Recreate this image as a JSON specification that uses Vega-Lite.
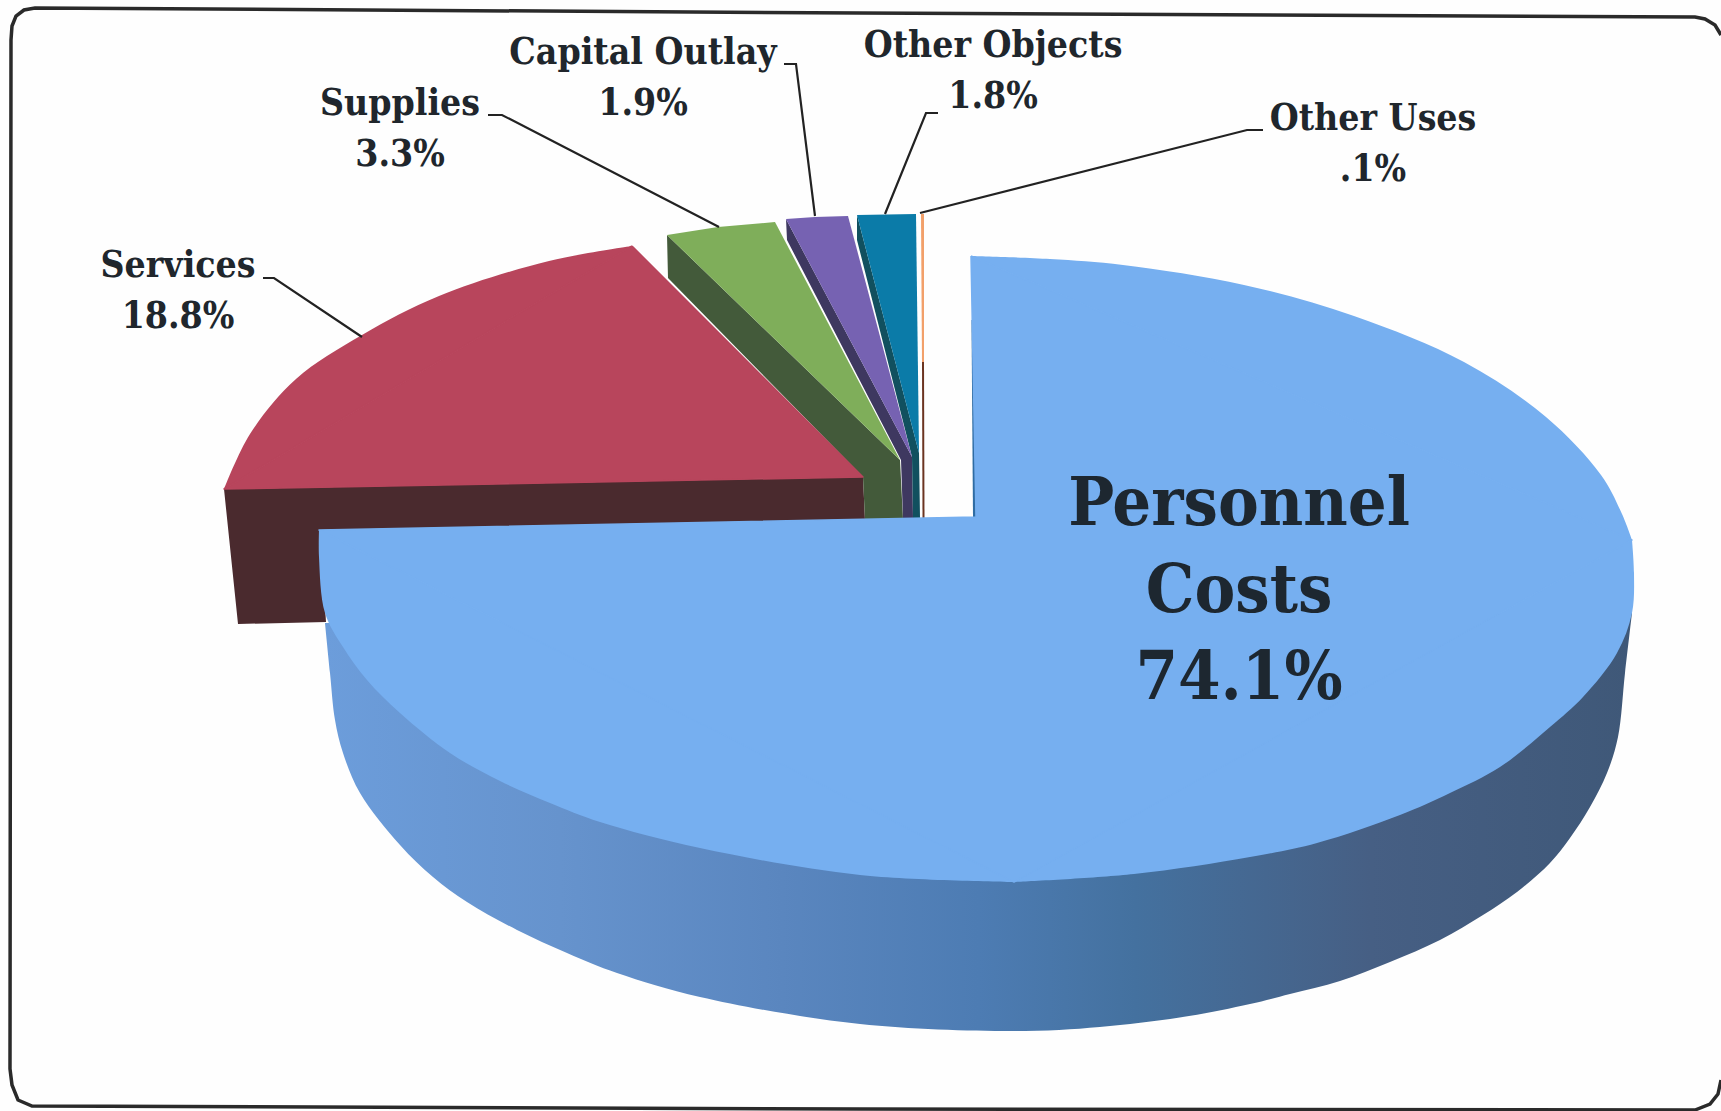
{"$schema":"https://vega.github.io/schema/vega-lite/v6.json","width":1721,"height":1111,"autosize":"none","padding":0,"background":"#fefefe","view":{"stroke":null},
"datasets":{
"shapes":[
{"tone":"Services side","part":"a","face":"side","i":1,"x":224,"y":489},{"tone":"Services side","part":"a","face":"side","i":2,"x":863,"y":477},{"tone":"Services side","part":"a","face":"side","i":3,"x":865,"y":520},{"tone":"Services side","part":"a","face":"side","i":4,"x":320,"y":530},{"tone":"Services side","part":"a","face":"side","i":5,"x":326,"y":622},{"tone":"Services side","part":"a","face":"side","i":6,"x":238,"y":624},
{"tone":"Supplies side","part":"a","face":"side","i":1,"x":667,"y":235},{"tone":"Supplies side","part":"a","face":"side","i":2,"x":900,"y":460},{"tone":"Supplies side","part":"a","face":"side","i":3,"x":903,"y":519},{"tone":"Supplies side","part":"a","face":"side","i":4,"x":865,"y":520},{"tone":"Supplies side","part":"a","face":"side","i":5,"x":863,"y":477},{"tone":"Supplies side","part":"a","face":"side","i":6,"x":668,"y":278},
{"tone":"Capital Outlay side","part":"a","face":"side","i":1,"x":786,"y":219},{"tone":"Capital Outlay side","part":"a","face":"side","i":2,"x":912,"y":457},{"tone":"Capital Outlay side","part":"a","face":"side","i":3,"x":913,"y":518},{"tone":"Capital Outlay side","part":"a","face":"side","i":4,"x":903,"y":519},{"tone":"Capital Outlay side","part":"a","face":"side","i":5,"x":901,"y":460},{"tone":"Capital Outlay side","part":"a","face":"side","i":6,"x":787,"y":240},
{"tone":"Other Objects side","part":"a","face":"side","i":1,"x":857,"y":215},{"tone":"Other Objects side","part":"a","face":"side","i":2,"x":919,"y":453},{"tone":"Other Objects side","part":"a","face":"side","i":3,"x":920,"y":518},{"tone":"Other Objects side","part":"a","face":"side","i":4,"x":913,"y":518},{"tone":"Other Objects side","part":"a","face":"side","i":5,"x":912,"y":457},{"tone":"Other Objects side","part":"a","face":"side","i":6,"x":857,"y":240},
{"tone":"Other Uses side","part":"a","face":"side","i":1,"x":922,"y":360},{"tone":"Other Uses side","part":"a","face":"side","i":2,"x":924,"y":360},{"tone":"Other Uses side","part":"a","face":"side","i":3,"x":924.5,"y":518},{"tone":"Other Uses side","part":"a","face":"side","i":4,"x":922.5,"y":518},
{"tone":"Personnel side","part":"a","face":"side","i":1,"x":971.5,"y":320},{"tone":"Personnel side","part":"a","face":"side","i":2,"x":972.5,"y":320},{"tone":"Personnel side","part":"a","face":"side","i":3,"x":976,"y":517},{"tone":"Personnel side","part":"a","face":"side","i":4,"x":973,"y":517},
{"tone":"Supplies top","part":"a","face":"wedge","i":1,"x":667,"y":235},{"tone":"Supplies top","part":"a","face":"wedge","i":2,"x":718,"y":227},{"tone":"Supplies top","part":"a","face":"wedge","i":3,"x":775,"y":222},{"tone":"Supplies top","part":"a","face":"wedge","i":4,"x":900,"y":460},
{"tone":"Capital Outlay top","part":"a","face":"wedge","i":1,"x":786,"y":219},{"tone":"Capital Outlay top","part":"a","face":"wedge","i":2,"x":815,"y":217},{"tone":"Capital Outlay top","part":"a","face":"wedge","i":3,"x":848,"y":216},{"tone":"Capital Outlay top","part":"a","face":"wedge","i":4,"x":912,"y":457},
{"tone":"Other Objects top","part":"a","face":"wedge","i":1,"x":857,"y":215},{"tone":"Other Objects top","part":"a","face":"wedge","i":2,"x":916,"y":214},{"tone":"Other Objects top","part":"a","face":"wedge","i":3,"x":919,"y":453},
{"tone":"Other Uses top","part":"a","face":"wedge","i":1,"x":921,"y":214},{"tone":"Other Uses top","part":"a","face":"wedge","i":2,"x":924,"y":214},{"tone":"Other Uses top","part":"a","face":"wedge","i":3,"x":924,"y":362},{"tone":"Other Uses top","part":"a","face":"wedge","i":4,"x":922,"y":362},
{"tone":"Services top","part":"a","face":"seam","i":1,"x":632,"y":246},{"tone":"Services top","part":"a","face":"seam","i":2,"x":863,"y":477},{"tone":"Services top","part":"a","face":"seam","i":3,"x":224,"y":489},{"tone":"Services top","part":"a","face":"seam","i":4,"x":632,"y":246},
{"tone":"Personnel top","part":"b","face":"seam","i":1,"x":971,"y":256},{"tone":"Personnel top","part":"b","face":"seam","i":2,"x":976,"y":517},{"tone":"Personnel top","part":"b","face":"seam","i":3,"x":319,"y":530},{"tone":"Personnel top","part":"b","face":"seam","i":4,"x":1014,"y":882},{"tone":"Personnel top","part":"b","face":"seam","i":5,"x":1632,"y":540},{"tone":"Personnel top","part":"b","face":"seam","i":6,"x":971,"y":256},
{"tone":"Services top","part":"s","face":"arc","i":1,"x":632,"y":246},{"tone":"Services top","part":"s","face":"arc","i":2,"x":549,"y":261},{"tone":"Services top","part":"s","face":"arc","i":3,"x":439,"y":296},{"tone":"Services top","part":"s","face":"arc","i":4,"x":362,"y":335},{"tone":"Services top","part":"s","face":"arc","i":5,"x":296,"y":379},{"tone":"Services top","part":"s","face":"arc","i":6,"x":250,"y":434},{"tone":"Services top","part":"s","face":"arc","i":7,"x":224,"y":489},
{"tone":"Personnel top","part":"p1","face":"arc","i":1,"x":971,"y":256},{"tone":"Personnel top","part":"p1","face":"arc","i":2,"x":1050,"y":259},{"tone":"Personnel top","part":"p1","face":"arc","i":3,"x":1123,"y":265},{"tone":"Personnel top","part":"p1","face":"arc","i":4,"x":1244,"y":285},{"tone":"Personnel top","part":"p1","face":"arc","i":5,"x":1354,"y":316},{"tone":"Personnel top","part":"p1","face":"arc","i":6,"x":1464,"y":362},{"tone":"Personnel top","part":"p1","face":"arc","i":7,"x":1546,"y":417},{"tone":"Personnel top","part":"p1","face":"arc","i":8,"x":1601,"y":475},{"tone":"Personnel top","part":"p1","face":"arc","i":9,"x":1622,"y":514},{"tone":"Personnel top","part":"p1","face":"arc","i":10,"x":1632,"y":540},
{"tone":"Personnel top","part":"p2","face":"arc","i":1,"x":1632,"y":540},{"tone":"Personnel top","part":"p2","face":"arc","i":2,"x":1634,"y":573},{"tone":"Personnel top","part":"p2","face":"arc","i":3,"x":1632,"y":613},{"tone":"Personnel top","part":"p2","face":"arc","i":4,"x":1617,"y":653},{"tone":"Personnel top","part":"p2","face":"arc","i":5,"x":1583,"y":697},{"tone":"Personnel top","part":"p2","face":"arc","i":6,"x":1550,"y":727},{"tone":"Personnel top","part":"p2","face":"arc","i":7,"x":1500,"y":767},{"tone":"Personnel top","part":"p2","face":"arc","i":8,"x":1450,"y":793},{"tone":"Personnel top","part":"p2","face":"arc","i":9,"x":1400,"y":815},{"tone":"Personnel top","part":"p2","face":"arc","i":10,"x":1317,"y":843},{"tone":"Personnel top","part":"p2","face":"arc","i":11,"x":1250,"y":857},{"tone":"Personnel top","part":"p2","face":"arc","i":12,"x":1134,"y":874},{"tone":"Personnel top","part":"p2","face":"arc","i":13,"x":1014,"y":882},
{"tone":"Personnel top","part":"p3","face":"arc","i":1,"x":1014,"y":882},{"tone":"Personnel top","part":"p3","face":"arc","i":2,"x":860,"y":875},{"tone":"Personnel top","part":"p3","face":"arc","i":3,"x":700,"y":848},{"tone":"Personnel top","part":"p3","face":"arc","i":4,"x":600,"y":822},{"tone":"Personnel top","part":"p3","face":"arc","i":5,"x":550,"y":803},{"tone":"Personnel top","part":"p3","face":"arc","i":6,"x":500,"y":781},{"tone":"Personnel top","part":"p3","face":"arc","i":7,"x":450,"y":753},{"tone":"Personnel top","part":"p3","face":"arc","i":8,"x":400,"y":713},{"tone":"Personnel top","part":"p3","face":"arc","i":9,"x":367,"y":680},{"tone":"Personnel top","part":"p3","face":"arc","i":10,"x":343,"y":647},{"tone":"Personnel top","part":"p3","face":"arc","i":11,"x":325,"y":613},{"tone":"Personnel top","part":"p3","face":"arc","i":12,"x":319,"y":557},{"tone":"Personnel top","part":"p3","face":"arc","i":13,"x":319,"y":530}
],
"rim":[
{"i":1,"x":1632,"y":613},{"i":2,"x":1625,"y":673},{"i":3,"x":1618,"y":737},{"i":4,"x":1607,"y":773},{"i":5,"x":1590,"y":807},{"i":6,"x":1570,"y":838},{"i":7,"x":1550,"y":863},{"i":8,"x":1517,"y":892},{"i":9,"x":1483,"y":915},{"i":10,"x":1440,"y":940},{"i":11,"x":1390,"y":962},{"i":12,"x":1340,"y":981},{"i":13,"x":1290,"y":994},{"i":14,"x":1250,"y":1004},{"i":15,"x":1189,"y":1016},{"i":16,"x":1110,"y":1026},{"i":17,"x":1025,"y":1031},{"i":18,"x":860,"y":1024},{"i":19,"x":700,"y":997},{"i":20,"x":617,"y":973},{"i":21,"x":567,"y":953},{"i":22,"x":517,"y":930},{"i":23,"x":467,"y":902},{"i":24,"x":433,"y":877},{"i":25,"x":400,"y":845},{"i":26,"x":360,"y":793},{"i":27,"x":343,"y":753},{"i":28,"x":335,"y":720},{"i":29,"x":330,"y":673},{"i":30,"x":325,"y":623}
],
"leaders":[
{"slice":"Services","i":1,"x":263,"y":278},{"slice":"Services","i":2,"x":274,"y":278},{"slice":"Services","i":3,"x":362,"y":337},
{"slice":"Supplies","i":1,"x":488,"y":115},{"slice":"Supplies","i":2,"x":502,"y":115},{"slice":"Supplies","i":3,"x":719,"y":227},
{"slice":"Capital Outlay","i":1,"x":784,"y":64},{"slice":"Capital Outlay","i":2,"x":796,"y":64},{"slice":"Capital Outlay","i":3,"x":815,"y":216},
{"slice":"Other Objects","i":1,"x":938,"y":113},{"slice":"Other Objects","i":2,"x":926,"y":113},{"slice":"Other Objects","i":3,"x":885,"y":214},
{"slice":"Other Uses","i":1,"x":1263,"y":130},{"slice":"Other Uses","i":2,"x":1247,"y":130},{"slice":"Other Uses","i":3,"x":920,"y":213}
],
"frame":[
{"i":1,"x":1721,"y":35},{"i":2,"x":1715,"y":25},{"i":3,"x":1705,"y":19},{"i":4,"x":1695,"y":17},{"i":5,"x":860,"y":13},{"i":6,"x":35,"y":8},{"i":7,"x":24,"y":10},{"i":8,"x":16,"y":16},{"i":9,"x":12,"y":26},{"i":10,"x":11,"y":40},{"i":11,"x":10,"y":1069},{"i":12,"x":12,"y":1085},{"i":13,"x":18,"y":1100},{"i":14,"x":32,"y":1106},{"i":15,"x":860,"y":1109},{"i":16,"x":1695,"y":1110},{"i":17,"x":1710,"y":1104},{"i":18,"x":1718,"y":1094},{"i":19,"x":1721,"y":1080}
],
"labels":[
{"slice":"Services","share":18.8,"text":"Services\n18.8%","x":178,"y":277},
{"slice":"Supplies","share":3.3,"text":"Supplies\n3.3%","x":400,"y":115},
{"slice":"Capital Outlay","share":1.9,"text":"Capital Outlay\n1.9%","x":643,"y":64},
{"slice":"Other Objects","share":1.8,"text":"Other Objects\n1.8%","x":993,"y":57},
{"slice":"Other Uses","share":0.1,"text":"Other Uses\n.1%","x":1373,"y":130}
],
"big":[{"slice":"Personnel Costs","share":74.1,"text":"Personnel\nCosts\n74.1%","x":1239,"y":525}]
},
"encoding":{
"x":{"field":"x","type":"quantitative","axis":null,"scale":{"domain":[0,1721],"nice":false,"zero":false}},
"y":{"field":"y","type":"quantitative","axis":null,"scale":{"domain":[1111,0],"nice":false,"zero":false}}
},
"layer":[
{"data":{"name":"shapes"},"transform":[{"filter":"datum.face==='side'"}],"mark":{"type":"line","interpolate":"linear","strokeWidth":0},"encoding":{"order":{"field":"i"},"fill":{"field":"tone","legend":null,"scale":{"domain":["Services side","Supplies side","Capital Outlay side","Other Objects side","Other Uses side","Personnel side","Services top","Supplies top","Capital Outlay top","Other Objects top","Other Uses top","Personnel top"],"range":["#4a2a2e","#435a3a","#3e3860","#11505f","#6b3420","#2f6ca3","#b8455c","#7fae5a","#7662b2","#0b7ba8","#f2a06a","#76aff0"]}}}},
{"data":{"name":"rim"},"mark":{"type":"line","interpolate":"catmull-rom","strokeWidth":0,"fill":{"gradient":"linear","x1":0,"y1":0,"x2":1,"y2":0,"stops":[{"offset":0,"color":"#6c9ddb"},{"offset":0.18,"color":"#6693cd"},{"offset":0.35,"color":"#5a86bf"},{"offset":0.5,"color":"#4d7cb3"},{"offset":0.62,"color":"#44719f"},{"offset":0.8,"color":"#465f84"},{"offset":1,"color":"#3f5878"}]}},"encoding":{"order":{"field":"i"}}},
{"data":{"name":"shapes"},"transform":[{"filter":"datum.face==='arc'"}],"mark":{"type":"line","interpolate":"catmull-rom","strokeWidth":0},"encoding":{"order":{"field":"i"},"detail":{"field":"part"},"fill":{"field":"tone","legend":null}}},
{"data":{"name":"shapes"},"transform":[{"filter":"datum.face==='wedge'"}],"mark":{"type":"line","interpolate":"linear","strokeWidth":0},"encoding":{"order":{"field":"i"},"fill":{"field":"tone","legend":null}}},
{"data":{"name":"shapes"},"transform":[{"filter":"datum.face==='seam' && datum.part==='a'"}],"mark":{"type":"line","interpolate":"linear","strokeWidth":1.5,"strokeJoin":"round","stroke":"#b8455c","fill":"#b8455c"},"encoding":{"order":{"field":"i"}}},
{"data":{"name":"shapes"},"transform":[{"filter":"datum.face==='seam' && datum.part==='b'"}],"mark":{"type":"line","interpolate":"linear","strokeWidth":1.5,"strokeJoin":"round","stroke":"#76aff0","fill":"#76aff0"},"encoding":{"order":{"field":"i"}}},
{"data":{"name":"leaders"},"mark":{"type":"line","stroke":"#222222","strokeWidth":2.2},"encoding":{"order":{"field":"i"},"detail":{"field":"slice"}}},
{"data":{"name":"frame"},"mark":{"type":"line","stroke":"#2a2a2a","strokeWidth":3.5},"encoding":{"order":{"field":"i"}}},
{"data":{"name":"labels"},"mark":{"type":"text","font":"DejaVu Serif Condensed","fontWeight":"bold","fontSize":37,"lineBreak":"\n","lineHeight":51,"align":"center","baseline":"alphabetic","fill":"#20262c"},"encoding":{"text":{"field":"text"}}},
{"data":{"name":"big"},"mark":{"type":"text","font":"DejaVu Serif Condensed","fontWeight":"bold","fontSize":68,"lineBreak":"\n","lineHeight":87,"align":"center","baseline":"alphabetic","fill":"#1d2730"},"encoding":{"text":{"field":"text"}}}
]}
